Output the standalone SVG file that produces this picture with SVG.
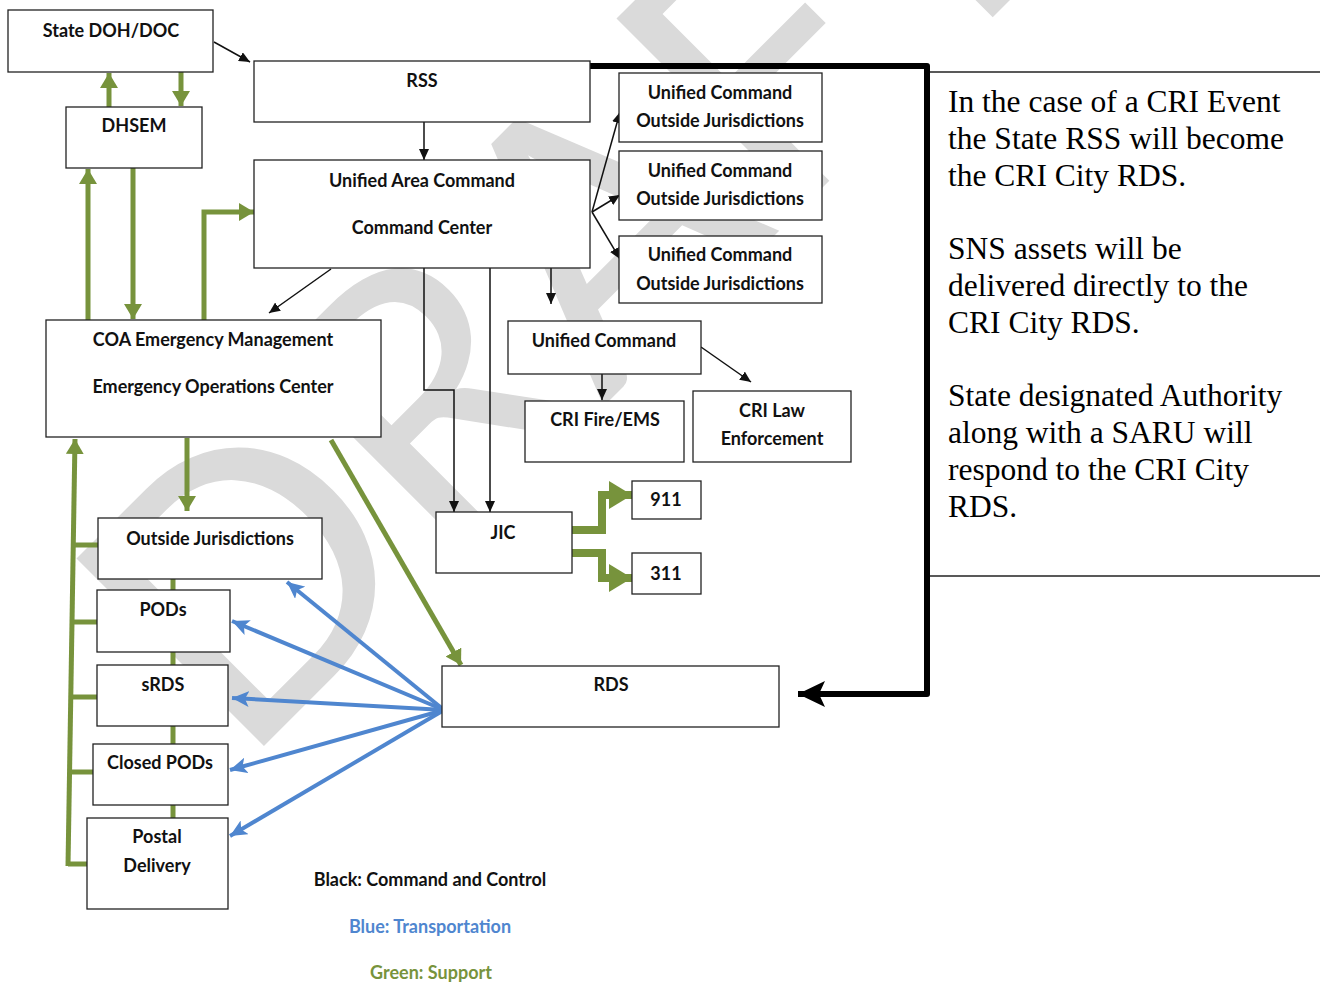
<svg xmlns="http://www.w3.org/2000/svg" width="1320" height="983" viewBox="0 0 1320 983">
<style>
.box{fill:#fff;stroke:#222;stroke-width:1.3}
.lbl{font-family:Lato,"Open Sans",sans-serif;font-weight:bold;font-size:18px;fill:#111;text-anchor:middle}
.note{font-family:"Liberation Serif","Times New Roman",serif;font-size:31.5px;fill:#000}
.blk{stroke:#111;stroke-width:1.5;fill:none}
.grn{stroke:#77933c;stroke-width:5;fill:none}
.blu{stroke:#4f86cf;stroke-width:4;fill:none}
</style>
<defs>
<marker id="ab" markerUnits="userSpaceOnUse" markerWidth="12" markerHeight="10" refX="11" refY="5" orient="auto"><path d="M0,0 L11,5 L0,10 z" fill="#111"/></marker>
<marker id="abig" markerUnits="userSpaceOnUse" markerWidth="28" markerHeight="26" refX="27" refY="13" orient="auto"><path d="M0,0 L27,13 L0,26 L6,13 z" fill="#000"/></marker>
<marker id="ag" markerUnits="userSpaceOnUse" markerWidth="16" markerHeight="18" refX="15" refY="9" orient="auto"><path d="M0,0 L15,9 L0,18 z" fill="#77933c"/></marker>
<marker id="agb" markerUnits="userSpaceOnUse" markerWidth="24" markerHeight="28" refX="23" refY="14" orient="auto"><path d="M0,0 L23,14 L0,28 z" fill="#77933c"/></marker>
<marker id="abl" markerUnits="userSpaceOnUse" markerWidth="18" markerHeight="16" refX="17" refY="8" orient="auto"><path d="M0,0 L17,8 L0,16 L4,8 z" fill="#4f86cf"/></marker>
</defs>
<rect width="1320" height="983" fill="#fff"/>

<g id="watermark" transform="translate(240,770) rotate(-45)">
<text x="0" y="0" font-family="Lato,sans-serif" font-weight="normal" font-size="370" fill="#dadada">DRAFT</text>
</g>

<g id="note-panel">
<line x1="930" y1="72" x2="1320" y2="72" stroke="#222" stroke-width="1.5"/>
<line x1="930" y1="576" x2="1320" y2="576" stroke="#222" stroke-width="1.5"/>
<text class="note"><tspan x="948" y="112">In the case of a CRI Event</tspan><tspan x="948" y="149">the State RSS will become</tspan><tspan x="948" y="186">the CRI City RDS.</tspan><tspan x="948" y="259">SNS assets will be</tspan><tspan x="948" y="296">delivered directly to the</tspan><tspan x="948" y="333">CRI City RDS.</tspan><tspan x="948" y="406">State designated Authority</tspan><tspan x="948" y="443">along with a SARU will</tspan><tspan x="948" y="480">respond to the CRI City</tspan><tspan x="948" y="517">RDS.</tspan></text>
</g>

<g id="connectors">
<line class="blk" x1="214" y1="42" x2="250" y2="62" marker-end="url(#ab)"/>
<line class="blk" x1="424" y1="122" x2="424" y2="160" marker-end="url(#ab)"/>
<line class="blk" x1="592" y1="212" x2="620" y2="112" marker-end="url(#ab)"/>
<line class="blk" x1="592" y1="212" x2="620" y2="195" marker-end="url(#ab)"/>
<line class="blk" x1="592" y1="212" x2="620" y2="259" marker-end="url(#ab)"/>
<line class="blk" x1="331" y1="269" x2="269" y2="313" marker-end="url(#ab)"/>
<line class="blk" x1="551" y1="268" x2="551" y2="304" marker-end="url(#ab)"/>
<polyline class="blk" points="424,268 424,390 454,390 454,512" marker-end="url(#ab)"/>
<line class="blk" x1="490" y1="268" x2="490" y2="512" marker-end="url(#ab)"/>
<line class="blk" x1="602" y1="374" x2="602" y2="400" marker-end="url(#ab)"/>
<line class="blk" x1="701" y1="347" x2="751" y2="382" marker-end="url(#ab)"/>
<polyline points="590,66 927,66 927,694 798,694" fill="none" stroke="#000" stroke-width="6" stroke-linejoin="round" marker-end="url(#abig)"/>
<line class="grn" x1="109" y1="107" x2="109" y2="73" marker-end="url(#ag)"/>
<line class="grn" x1="181" y1="72" x2="181" y2="106" marker-end="url(#ag)"/>
<line class="grn" x1="88" y1="320" x2="88" y2="169" marker-end="url(#ag)"/>
<line class="grn" x1="133" y1="168" x2="133" y2="319" marker-end="url(#ag)"/>
<polyline class="grn" points="204,320 204,212 254,212" marker-end="url(#ag)"/>
<line class="grn" x1="187" y1="438" x2="187" y2="511" marker-end="url(#ag)"/>
<line class="grn" x1="331" y1="440" x2="461" y2="665" marker-end="url(#ag)"/>
<line class="grn" x1="68" y1="866" x2="75" y2="439" marker-end="url(#ag)"/>
<line class="grn" x1="73" y1="545" x2="98" y2="545"/>
<line class="grn" x1="72" y1="622" x2="97" y2="622"/>
<line class="grn" x1="71" y1="697" x2="97" y2="697"/>
<line class="grn" x1="70" y1="772" x2="93" y2="772"/>
<line class="grn" x1="68" y1="864" x2="87" y2="864"/>
<line class="grn" x1="173" y1="579" x2="173" y2="590"/>
<line class="grn" x1="173" y1="652" x2="173" y2="665"/>
<line class="grn" x1="173" y1="726" x2="173" y2="744"/>
<line class="grn" x1="173" y1="805" x2="173" y2="818"/>
<polyline points="572,530 602,530 602,495 632,495" fill="none" stroke="#77933c" stroke-width="8" marker-end="url(#agb)"/>
<polyline points="572,553 602,553 602,578 632,578" fill="none" stroke="#77933c" stroke-width="8" marker-end="url(#agb)"/>
<line class="blu" x1="444" y1="710" x2="287" y2="582" marker-end="url(#abl)"/>
<line class="blu" x1="444" y1="710" x2="232" y2="621" marker-end="url(#abl)"/>
<line class="blu" x1="444" y1="710" x2="232" y2="698" marker-end="url(#abl)"/>
<line class="blu" x1="444" y1="710" x2="230" y2="770" marker-end="url(#abl)"/>
<line class="blu" x1="444" y1="710" x2="230" y2="836" marker-end="url(#abl)"/>
</g>

<g id="state-doh"><rect class="box" x="8" y="10" width="205" height="62"/><text class="lbl" x="111" y="37">State DOH/DOC</text></g>
<g id="dhsem"><rect class="box" x="66" y="107" width="136" height="61"/><text class="lbl" x="134" y="132">DHSEM</text></g>
<g id="rss"><rect class="box" x="254" y="61" width="336" height="61"/><text class="lbl" x="422" y="87">RSS</text></g>
<g id="uac"><rect class="box" x="254" y="160" width="336" height="108"/><text class="lbl" x="422" y="187">Unified Area Command</text><text class="lbl" x="422" y="234">Command Center</text></g>
<g id="uc-out-1"><rect class="box" x="619" y="73" width="203" height="69"/><text class="lbl" x="720" y="99">Unified Command</text><text class="lbl" x="720" y="127">Outside Jurisdictions</text></g>
<g id="uc-out-2"><rect class="box" x="619" y="151" width="203" height="69"/><text class="lbl" x="720" y="177">Unified Command</text><text class="lbl" x="720" y="205">Outside Jurisdictions</text></g>
<g id="uc-out-3"><rect class="box" x="619" y="236" width="203" height="67"/><text class="lbl" x="720" y="261">Unified Command</text><text class="lbl" x="720" y="290">Outside Jurisdictions</text></g>
<g id="coa"><rect class="box" x="46" y="320" width="335" height="117"/><text class="lbl" x="213" y="346">COA Emergency Management</text><text class="lbl" x="213" y="393">Emergency Operations Center</text></g>
<g id="unified-command"><rect class="box" x="508" y="321" width="193" height="53"/><text class="lbl" x="604" y="347">Unified Command</text></g>
<g id="cri-fire"><rect class="box" x="525" y="401" width="159" height="61"/><text class="lbl" x="605" y="426">CRI Fire/EMS</text></g>
<g id="cri-law"><rect class="box" x="693" y="391" width="158" height="71"/><text class="lbl" x="772" y="417">CRI Law</text><text class="lbl" x="772" y="445">Enforcement</text></g>
<g id="jic"><rect class="box" x="436" y="512" width="136" height="61"/><text class="lbl" x="503" y="539">JIC</text></g>
<g id="n911"><rect class="box" x="632" y="481" width="69" height="38"/><text class="lbl" x="666" y="506">911</text></g>
<g id="n311"><rect class="box" x="632" y="553" width="69" height="41"/><text class="lbl" x="666" y="580">311</text></g>
<g id="outside-jur"><rect class="box" x="98" y="518" width="224" height="61"/><text class="lbl" x="210" y="545">Outside Jurisdictions</text></g>
<g id="pods"><rect class="box" x="97" y="590" width="133" height="62"/><text class="lbl" x="163" y="616">PODs</text></g>
<g id="srds"><rect class="box" x="97" y="665" width="131" height="61"/><text class="lbl" x="163" y="691">sRDS</text></g>
<g id="closed-pods"><rect class="box" x="93" y="744" width="135" height="61"/><text class="lbl" x="160" y="769">Closed PODs</text></g>
<g id="postal"><rect class="box" x="87" y="818" width="141" height="91"/><text class="lbl" x="157" y="843">Postal</text><text class="lbl" x="157" y="872">Delivery</text></g>
<g id="rds"><rect class="box" x="442" y="666" width="337" height="61"/><text class="lbl" x="611" y="691">RDS</text></g>

<g id="legend">
<text class="lbl" x="430" y="886">Black: Command and Control</text>
<text class="lbl" x="430" y="933" style="fill:#4f86cf">Blue: Transportation</text>
<text class="lbl" x="431" y="979" style="fill:#77933c">Green: Support</text>
</g>
</svg>
